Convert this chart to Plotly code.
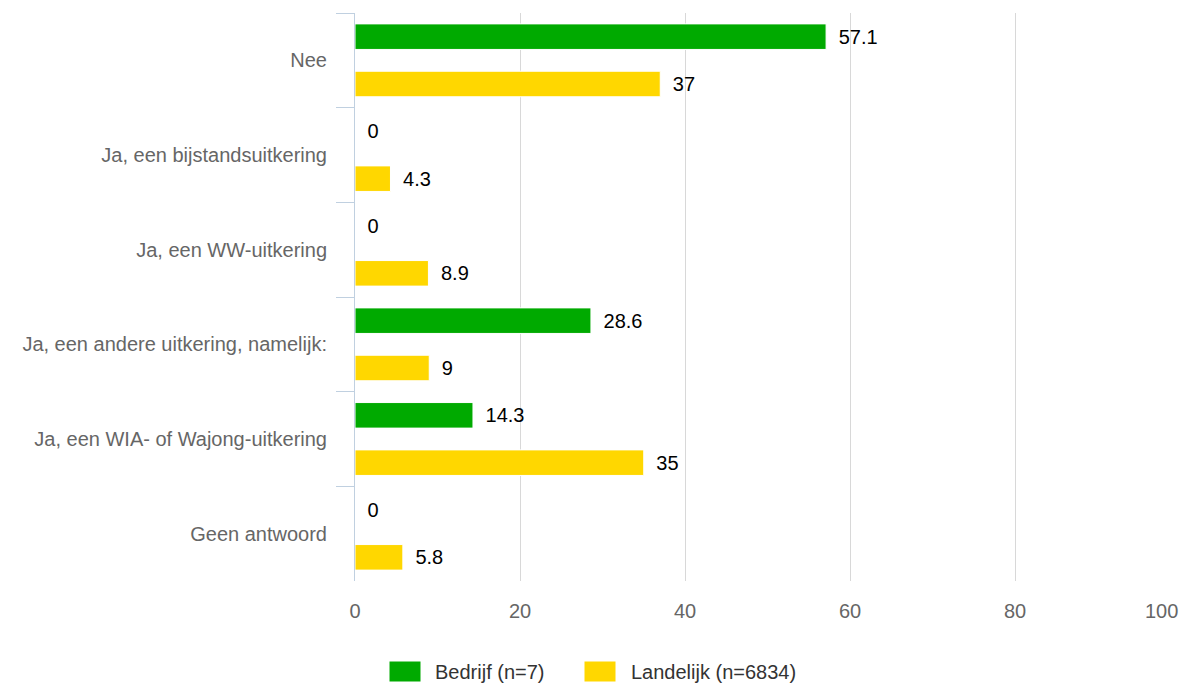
import plotly.graph_objects as go

categories = [
    "Nee",
    "Ja, een bijstandsuitkering",
    "Ja, een WW-uitkering",
    "Ja, een andere uitkering, namelijk:",
    "Ja, een WIA- of Wajong-uitkering",
    "Geen antwoord",
]
bedrijf = [57.1, 0, 0, 28.6, 14.3, 0]
landelijk = [37, 4.3, 8.9, 9, 35, 5.8]
series_names = ["Bedrijf (n=7)", "Landelijk (n=6834)"]
series_colors = ["#00AA00", "#FFD700"]
x_ticks = [0, 20, 40, 60, 80, 100]

FONT = "Liberation Sans, Arial, sans-serif"
FS = 20

def fmt(v):
    return ("%g" % v)

fig = go.Figure()
for name, vals, col in zip(series_names, [bedrijf, landelijk], series_colors):
    fig.add_trace(go.Bar(
        y=categories, x=vals, orientation="h", name=name,
        marker=dict(color=col, line=dict(color="white", width=1)),
        text=["\u00a0\u2009" + fmt(v) for v in vals],
        textposition="outside", cliponaxis=False, constraintext="none",
        textfont=dict(family=FONT, size=FS, color="#000000"),
        showlegend=False, hoverinfo="skip",
    ))

# x tick labels: last one right-aligned via annotation at its data value
ticktext = [str(t) for t in x_ticks[:-1]] + [""]

fig.update_layout(
    width=1183, height=688,
    margin=dict(l=355, r=3, t=13, b=107),
    paper_bgcolor="white", plot_bgcolor="white",
    barmode="group", bargap=0.0, bargroupgap=0.46,
    font=dict(family=FONT, size=FS, color="#666666"),
    xaxis=dict(
        range=[0, 100], tickvals=x_ticks, ticktext=ticktext,
        showgrid=True, gridcolor="#D8D8D8", gridwidth=1,
        zeroline=False, showline=False, ticks="",
        ticklabelstandoff=16,
        tickfont=dict(family=FONT, size=FS, color="#666666"),
    ),
    yaxis=dict(
        categoryorder="array", categoryarray=categories,
        autorange="reversed",
        showline=True, linecolor="#C0D0E0", linewidth=1,
        ticks="outside", tickson="boundaries", ticklen=18, tickcolor="#C0D0E0",
        ticklabelstandoff=23,
        showgrid=False, zeroline=False,
        tickfont=dict(family=FONT, size=FS, color="#666666"),
    ),
)

fig.add_annotation(
    x=x_ticks[-1], y=0, xref="x", yref="paper", yshift=-30,
    text=str(x_ticks[-1]), showarrow=False, xanchor="right", yanchor="middle",
    font=dict(family=FONT, size=FS, color="#666666"),
)

# custom legend (pixel -> paper conversion)
plot_l, plot_r, plot_t, plot_b = 355, 1180, 13, 581
def px(x):
    return (x - plot_l) / (plot_r - plot_l)
def py(y):
    return (plot_b - y) / (plot_b - plot_t)

legend_boxes = [(389, 421), (584, 616)]
legend_text_x = [433, 629]
for (x0, x1), tx, name, col in zip(legend_boxes, legend_text_x, series_names, series_colors):
    fig.add_shape(type="rect", xref="paper", yref="paper",
                  x0=px(x0), x1=px(x1), y0=py(682), y1=py(661),
                  fillcolor=col, line=dict(color="white", width=1))
    fig.add_annotation(x=px(tx), y=py(671.5), xref="paper", yref="paper",
                       text=name, showarrow=False, xanchor="left", yanchor="middle",
                       font=dict(family=FONT, size=FS, color="#333333"))

fig.write_html(
    "out.html",
    config={"displayModeBar": False},
    post_script="document.body.style.margin='0';document.body.style.overflow='hidden';",
)
